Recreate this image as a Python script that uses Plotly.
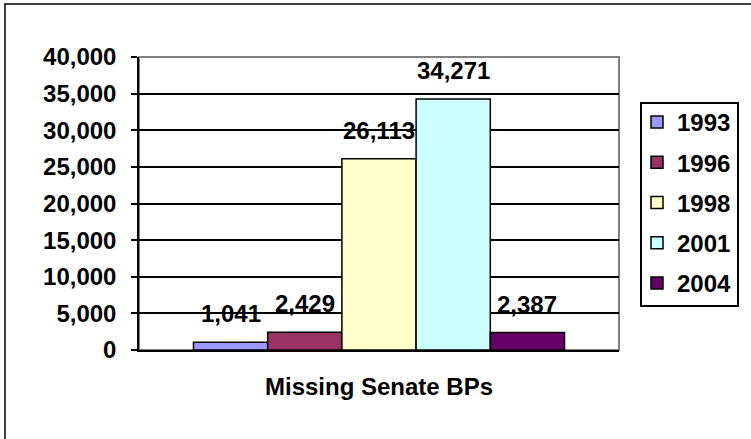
import plotly.graph_objects as go

category = ["Missing Senate BPs"]
years = ["1993", "1996", "1998", "2001", "2004"]
values = [1041, 2429, 26113, 34271, 2387]
colors = ["#9999FF", "#993366", "#FFFFCC", "#CCFFFF", "#660066"]
y_ticks = [0, 5000, 10000, 15000, 20000, 25000, 30000, 35000, 40000]

FONT = "Liberation Sans, Arial, sans-serif"
FS = 24
bargap = 0.227

# plot area in pixels (for converting decorative shapes to paper coords)
L, R, T, B = 139, 619, 57, 350
def px(xp):
    return (xp - L) / (R - L)
def py(yp):
    return (B - yp) / (B - T)

fig = go.Figure()
for yr, v, c in zip(years, values, colors):
    fig.add_trace(go.Bar(
        x=category, y=[v], name=yr, legendgroup=yr,
        marker=dict(color=c, line=dict(color="black", width=1.5)),
    ))

n = len(values)
bw = (1 - bargap) / n
for i, v in enumerate(values):
    fig.add_annotation(
        x=(i - (n - 1) / 2) * bw, y=v, xref="x", yref="y",
        text=f"<b>{v:,}</b>", showarrow=False, yanchor="bottom", yshift=13,
        font=dict(family=FONT, size=FS, color="black"),
    )

# plot area gray border (top & right)
fig.add_shape(type="rect", xref="paper", yref="paper", x0=0, x1=1, y0=0, y1=1,
              line=dict(color="#808080", width=2), layer="below")
# outer chart border
fig.add_shape(type="rect", xref="paper", yref="paper", x0=px(5), x1=px(900), y0=py(600), y1=py(4),
              line=dict(color="black", width=1.5))
# legend box
fig.add_shape(type="rect", xref="paper", yref="paper", x0=px(641), x1=px(738), y0=py(306), y1=py(103),
              line=dict(color="black", width=2))

fig.update_layout(
    width=751, height=439,
    margin=dict(l=L, r=751 - R, t=T, b=439 - B, autoexpand=False),
    plot_bgcolor="white", paper_bgcolor="white",
    barmode="group", bargap=bargap, bargroupgap=0,
    font=dict(family=FONT, size=FS, color="black"),
    showlegend=True,
    legend=dict(
        x=px(637), y=py(100), xanchor="left", yanchor="top",
        borderwidth=0, bgcolor="rgba(0,0,0,0)",
        font=dict(family=FONT, size=FS, color="black", weight="bold"),
        tracegroupgap=6, traceorder="grouped",
    ),
    xaxis=dict(
        showline=True, linecolor="black", linewidth=1.5,
        ticks="", showgrid=False, ticklabelstandoff=14,
        tickfont=dict(family=FONT, size=FS, color="black", weight="bold"),
    ),
    yaxis=dict(
        range=[0, 40000], tickvals=y_ticks, tickformat=",d",
        showline=True, linecolor="black", linewidth=1.5,
        ticks="outside", ticklen=6, tickcolor="black", tickwidth=1.5,
        showgrid=True, gridcolor="black", gridwidth=1.5,
        zeroline=False, ticklabelstandoff=10,
        tickfont=dict(family=FONT, size=FS, color="black", weight="bold"),
    ),
)

fig.write_html("out.html", config={"displayModeBar": False},
               post_script="document.body.style.margin='0';document.body.style.overflow='hidden';")
